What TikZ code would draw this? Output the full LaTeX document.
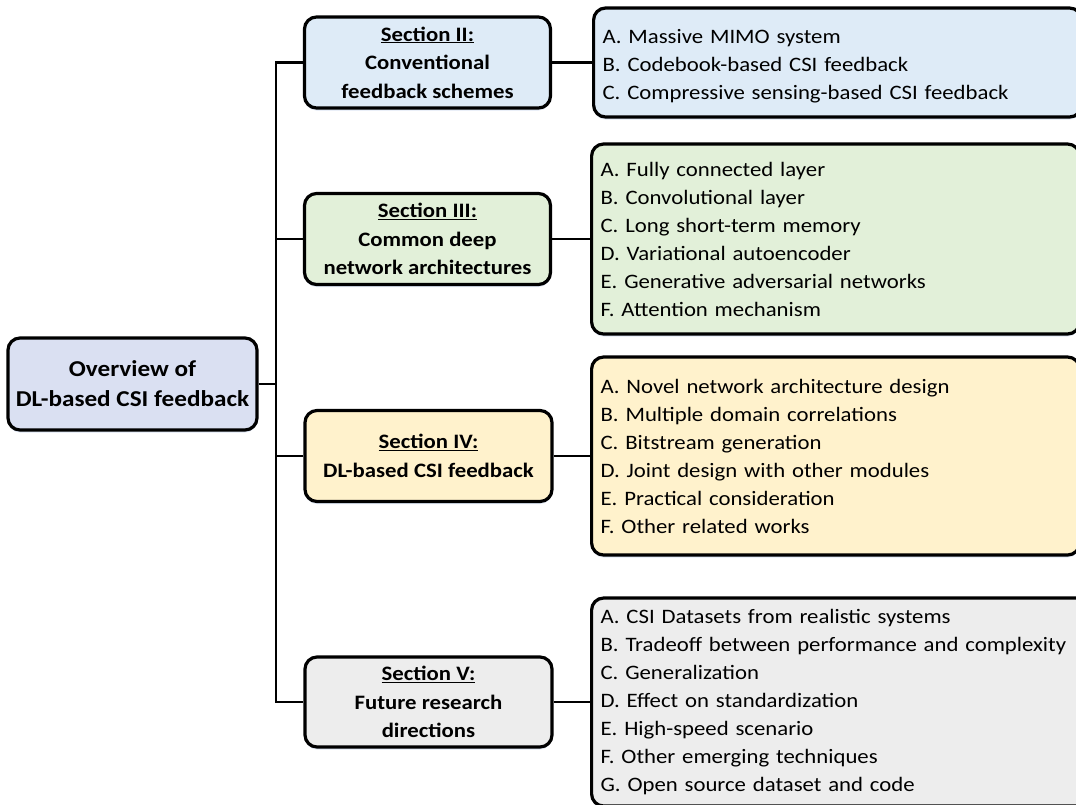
\documentclass[tikz,border=0pt]{standalone}
\usepackage{fontspec}
\setmainfont[FakeStretch=1.11]{Carlito}
\usetikzlibrary{shadows}

\definecolor{rootfill}{HTML}{DAE0F2}
\definecolor{bluefill}{HTML}{DEEBF7}
\definecolor{greenfill}{HTML}{E2F0D9}
\definecolor{yellowfill}{HTML}{FFF2CC}
\definecolor{grayfill}{HTML}{EDEDED}
\definecolor{shade}{HTML}{C9D7EE}

\tikzset{
  box/.style={draw=black, line width=3.2pt, rounded corners=12pt,
    drop shadow={shadow xshift=0pt, shadow yshift=-2.5pt, fill=shade, opacity=0.6}},
  rootbox/.style={box, fill=rootfill, minimum width=249pt, minimum height=92pt,
    align=center, font=\fontsize{22.7}{30}\selectfont\bfseries, inner sep=0pt},
  secbox/.style={box, minimum width=246pt, minimum height=91pt,
    align=center, font=\fontsize{20.5}{28.5}\selectfont\bfseries, inner sep=0pt},
  listbox/.style={box, anchor=west, text width=470pt, inner xsep=9pt, inner ysep=0pt,
    align=left, font=\fontsize{20.5}{28}\selectfont},
  link/.style={draw=black, line width=2.5pt},
}

\begin{document}
\frenchspacing
\begin{tikzpicture}[x=1pt, y=-1pt]
  \useasboundingbox (0,0) rectangle (1076,804);
  \clip (0,0) rectangle (1076,804);

  % root of the overview
  \node[rootbox] (root) at (132.5,384) {Overview of\\DL-based CSI feedback};

  % section boxes
  \node[secbox, fill=bluefill] (s2) at (427.5,62.5)
    {\underline{Section II:}\\Conventional\\feedback schemes};
  \node[secbox, fill=greenfill] (s3) at (427.5,239)
    {\underline{Section III:}\\Common deep\\network architectures};
  \node[secbox, fill=yellowfill, minimum width=247pt] (s4) at (428.5,456)
    {\underline{Section IV:}\\DL-based CSI feedback};
  \node[secbox, fill=grayfill, minimum width=247pt, minimum height=90pt] (s5) at (428.5,702)
    {\underline{Section V:}\\Future research\\directions};

  % item lists (the first one sits a little low in its box)
  \node[listbox, fill=bluefill, minimum height=109pt] (l2) at (592,62.5)
    {\rule{0pt}{22pt}A. Massive MIMO system\\
     B. Codebook-based CSI feedback\\
     C. Compressive sensing-based CSI feedback};
  \node[listbox, fill=greenfill, minimum height=190pt] (l3) at (590,239)
    {A. Fully connected layer\\
     B. Convolutional layer\\
     C. Long short-term memory\\
     D. Variational autoencoder\\
     E. Generative adversarial networks\\
     F. Attention mechanism};
  \node[listbox, fill=yellowfill, minimum height=198pt] (l4) at (590,456)
    {A. Novel network architecture design\\
     B. Multiple domain correlations\\
     C. Bitstream generation\\
     D. Joint design with other modules\\
     E. Practical consideration\\
     F. Other related works};
  \node[listbox, fill=grayfill, minimum height=208pt, text width=520pt] (l5) at (590,702)
    {A. CSI Datasets from realistic systems\\
     B. Tradeoff between performance and complexity\\
     C. Generalization\\
     D. Effect on standardization\\
     E. High-speed scenario\\
     F. Other emerging techniques\\
     G. Open source dataset and code};

  % tree connectors
  \coordinate (tx) at (276,0);
  \draw[link] (s2.west) -- (s2.west -| tx) -- (s5.west -| tx) -- (s5.west);
  \draw[link] (root.east) -- (root.east -| tx);
  \draw[link] (s3.west) -- (s3.west -| tx);
  \draw[link] (s4.west) -- (s4.west -| tx);
  \draw[link] (s2.east) -- (l2.west);
  \draw[link] (s3.east) -- (l3.west);
  \draw[link] (s4.east) -- (l4.west);
  \draw[link] (s5.east) -- (l5.west);
\end{tikzpicture}
\end{document}
